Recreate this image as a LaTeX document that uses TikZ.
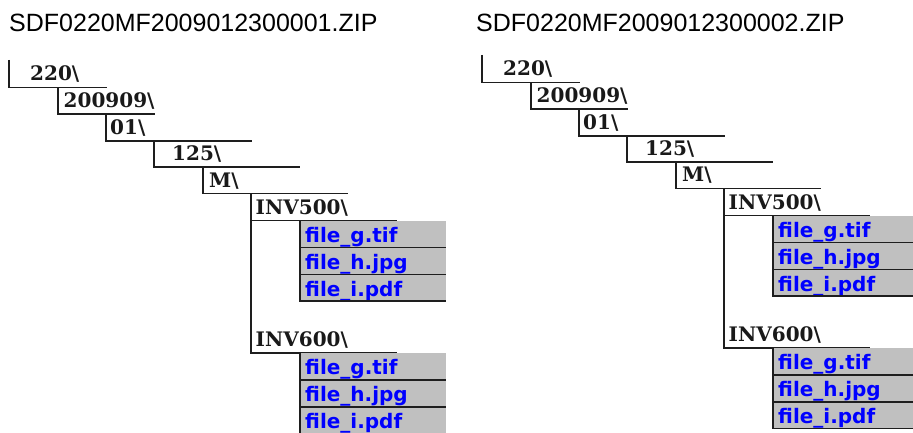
\documentclass[tikz,border=0pt]{standalone}
\usepackage{fontspec}
\newfontfamily\zipfont{Liberation Sans}
\newfontfamily\dirfont{DejaVu Serif}
\newfontfamily\filefont{DejaVu Sans}
\usetikzlibrary{positioning}
\definecolor{filegray}{RGB}{192,192,192}
\definecolor{fileblue}{RGB}{0,0,255}
\definecolor{stairline}{RGB}{30,30,30}
\tikzset{
	zipname/.style={anchor=base west, inner sep=0pt, font=\zipfont\fontsize{25}{30}\selectfont},
	dirname/.style={anchor=base west, inner sep=0pt, text=black!90, font=\dirfont\bfseries\fontsize{20}{24}\selectfont},
	stair/.style={line width=1.5pt, color=stairline},
	fileitem/.style={fill=filegray, text=fileblue, inner xsep=5pt, inner ysep=0pt, text width=136pt,
		minimum height=26.5pt, text height=17pt, text depth=0.5pt, font=\filefont\bfseries\fontsize{20}{24}\selectfont}
}
% one folder tree of a zip file
\newcommand\ziptree{%
	\draw[stair] (9,60) |- (107,87.5);
	\draw[stair] (58,87.5) |- (155,114);
	\draw[stair] (106,114) |- (252,141);
	\draw[stair] (154,141) |- (300,167);
	\draw[stair] (203,167) |- (348,193.5);
	\draw[stair] (251,193.5) |- (397,353);
	\draw[stair] (251,220.5) -- (397,220.5);
	
	\node[dirname] (d220) at (30,81) {220\textbackslash};
	\node[dirname] (d200909) at (63.5,107.5) {200909\textbackslash};
	\node[dirname] (d01) at (110,134.5) {01\textbackslash};
	\node[dirname] (d125) at (172,160.5) {125\textbackslash};
	\node[dirname] (dM) at (209,187) {M\textbackslash};
	\node[dirname] (inv500) at (255.5,214) {INV500\textbackslash};
	\node[dirname] (inv600) at (255.5,346.5) {INV600\textbackslash};
	
	%% INV500 files
	\node[fileitem, anchor=north west] (a1) at (300,220.5) {file\_g.tif};
	\node[fileitem, below=0pt of a1] (a2) {file\_h.jpg};
	\node[fileitem, below=0pt of a2] (a3) {file\_i.pdf};
	\draw[stair] (a1.north west) |- (a1.south east);
	\draw[stair] (a2.north west) |- (a2.south east);
	\draw[stair] (a3.north west) |- (a3.south east);
	
	%% INV600 files
	\node[fileitem, anchor=north west] (b1) at (300,353) {file\_g.tif};
	\node[fileitem, below=0pt of b1] (b2) {file\_h.jpg};
	\node[fileitem, below=0pt of b2] (b3) {file\_i.pdf};
	\draw[stair] (b1.north west) |- (b1.south east);
	\draw[stair] (b2.north west) |- (b2.south east);
	\draw[stair] (b3.north west) |- (b3.south east);
}

\begin{document}
\begin{tikzpicture}[x=1pt, y=-1pt]
	\useasboundingbox (0,0) rectangle (913,433);
	\clip (0,0) rectangle (913,433);
	
	\node[zipname] (zip1) at (9,31.5) {SDF0220MF2009012300001.ZIP};
	\node[zipname] (zip2) at (476,31.5) {SDF0220MF2009012300002.ZIP};
	
	\begin{scope}[name prefix=L-]
		\ziptree
	\end{scope}
	
	\begin{scope}[name prefix=R-, shift={(473,-5)}]
		\ziptree
	\end{scope}
\end{tikzpicture}
\end{document}
